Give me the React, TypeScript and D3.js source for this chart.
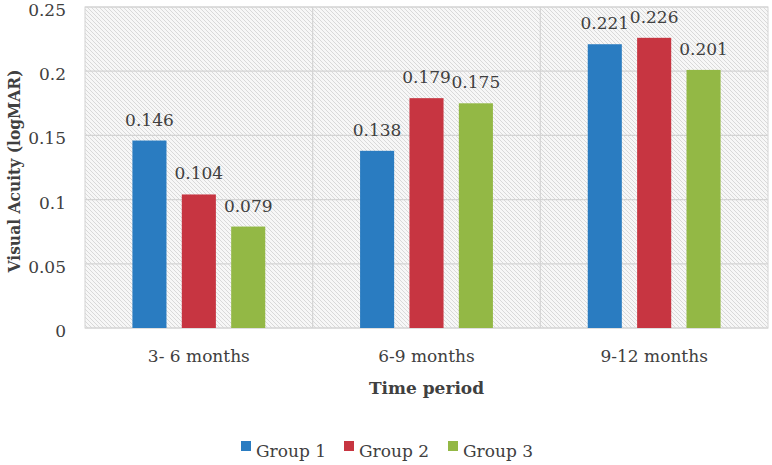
import React from "react";
import * as d3 from "d3";

const categories = ["3- 6 months", "6-9 months", "9-12 months"];
const seriesNames = ["Group 1", "Group 2", "Group 3"];
const group1 = [0.146, 0.138, 0.221];
const group2 = [0.104, 0.179, 0.226];
const group3 = [0.079, 0.175, 0.201];
const yTicks = [0, 0.05, 0.1, 0.15, 0.2, 0.25];
const colors = ["#2a7cc1", "#c73541", "#93b845"];

const W = 772, H = 465;
const M = { left: 85, right: 768, top: 7, bottom: 328 };
const FONT = "'DejaVu Serif', 'Liberation Serif', serif";

export default function App() {
  const series = [group1, group2, group3];
  const x0 = d3.scaleBand().domain(categories).range([M.left, M.right]).paddingInner(0).paddingOuter(0);
  const x1 = d3.scaleBand().domain(seriesNames).range([0, x0.bandwidth()]).paddingInner(0.31).paddingOuter(0.96);
  const y = d3.scaleLinear().domain([0, 0.25]).range([M.bottom, M.top]);
  const fmt = (v: number) => (v === 0 ? "0" : String(v));
  const legendX = [241, 344, 448];

  return (
    <svg width={W} height={H} style={{ position: "absolute", left: 0, top: 0, background: "#fff" }}>
      <defs>
        <pattern id="hatch" patternUnits="userSpaceOnUse" width="4" height="4">
          <rect width="4" height="4" fill="#f7f7f7" />
          <path d="M-1,-1 L5,5 M-1,3 L1,5 M3,-1 L5,1" stroke="#d9d9d9" strokeWidth="1" />
        </pattern>
      </defs>
      <rect x={M.left} y={M.top} width={M.right - M.left} height={M.bottom - M.top} fill="url(#hatch)" stroke="#d4d4d4" />
      {yTicks.map((t) => (
        <line key={"g" + t} x1={M.left} x2={M.right} y1={y(t)} y2={y(t)} stroke="#d4d4d4" strokeWidth={1.2} />
      ))}
      {categories.map((c, i) =>
        i > 0 ? (
          <line key={"v" + c} x1={x0(c)!} x2={x0(c)!} y1={M.top} y2={M.bottom} stroke="#d4d4d4" strokeWidth={1.2} />
        ) : null
      )}
      {yTicks.map((t) => (
        <text key={"t" + t} x={66} y={y(t) + 9} textAnchor="end" fontFamily={FONT} fontSize={17} fill="#404040">
          {fmt(t)}
        </text>
      ))}
      {categories.map((c, i) => (
        <g key={c}>
          {series.map((s, j) => {
            const bx = x0(c)! + x1(seriesNames[j])!;
            const bw = x1.bandwidth();
            return (
              <g key={j}>
                <rect x={bx} y={y(s[i])} width={bw} height={M.bottom - y(s[i])} fill={colors[j]} />
                <text x={bx + bw / 2} y={y(s[i]) - 15} textAnchor="middle" fontFamily={FONT} fontSize={17} fill="#404040">
                  {s[i].toFixed(3)}
                </text>
              </g>
            );
          })}
          <text x={x0(c)! + x0.bandwidth() / 2} y={362} textAnchor="middle" fontFamily={FONT} fontSize={17} fill="#404040">
            {c}
          </text>
        </g>
      ))}
      <text x={(M.left + M.right) / 2} y={394} textAnchor="middle" fontFamily={FONT} fontSize={17} fontWeight="bold" fill="#404040">
        Time period
      </text>
      <text transform={`translate(20,171) rotate(-90)`} textAnchor="middle" fontFamily={FONT} fontSize={17} fontWeight="bold" fill="#404040" textLength={203} lengthAdjust="spacingAndGlyphs">
        Visual Acuity (logMAR)
      </text>
      {seriesNames.map((n, j) => (
        <g key={n}>
          <rect x={legendX[j]} y={441} width={10} height={10} fill={colors[j]} />
          <text x={legendX[j] + 15} y={457} fontFamily={FONT} fontSize={17} fill="#404040">
            {n}
          </text>
        </g>
      ))}
    </svg>
  );
}
